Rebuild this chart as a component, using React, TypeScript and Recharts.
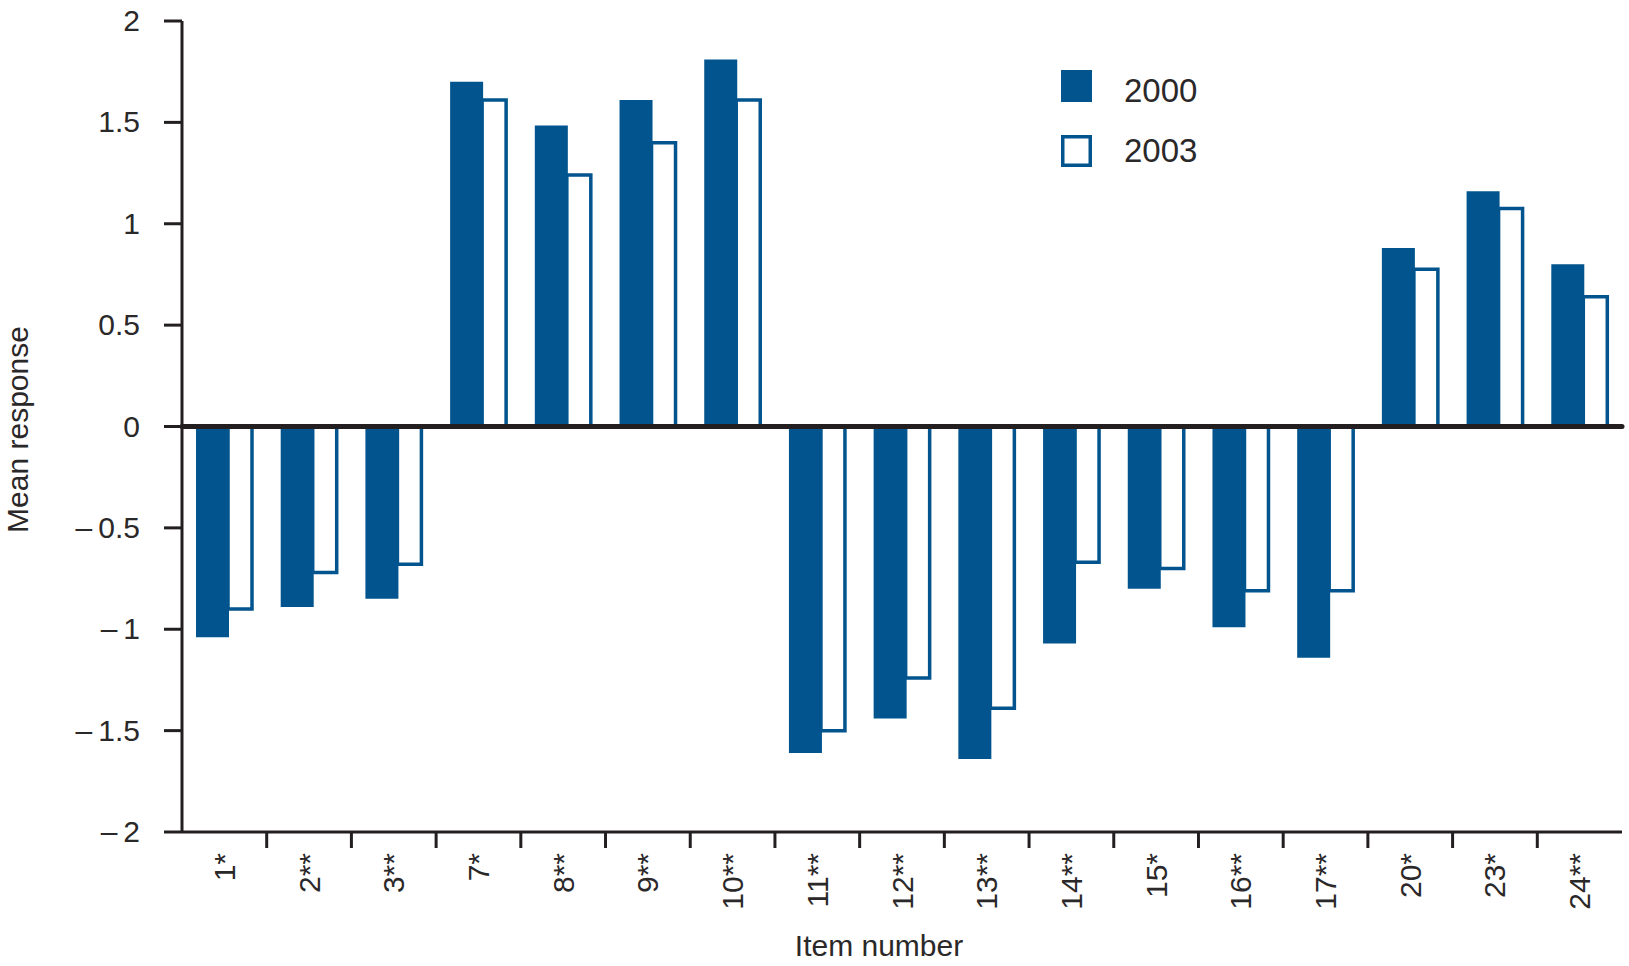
import React from 'react';
import { BarChart, Bar, XAxis, YAxis, ReferenceLine, Legend } from 'recharts';

const items = ['1*', '2**', '3**', '7*', '8**', '9**', '10**', '11**', '12**', '13**', '14**', '15*', '16**', '17**', '20*', '23*', '24**'];
const mean2000 = [-1.04, -0.89, -0.85, 1.70, 1.485, 1.61, 1.81, -1.61, -1.44, -1.64, -1.07, -0.80, -0.99, -1.14, 0.88, 1.16, 0.80];
const mean2003 = [-0.90, -0.72, -0.68, 1.61, 1.24, 1.40, 1.61, -1.50, -1.24, -1.39, -0.67, -0.70, -0.81, -0.81, 0.775, 1.075, 0.64];
const yTicks = [-2, -1.5, -1, -0.5, 0, 0.5, 1, 1.5, 2];
const seriesNames = ['2000', '2003'];
const xTitle = 'Item number';
const yTitle = 'Mean response';

const W = 1629;
const H = 966;
const PLOT_LEFT = 182;
const PLOT_RIGHT = 1622;
const PLOT_TOP = 21;
const AXIS_Y = 832;
const INK = '#231f20';
const TEXT = '#2b2829';
const BLUE = '#01548d';
const FONT = '"Liberation Sans", Arial, Helvetica, sans-serif';

const data = items.map((item, i) => ({ item, y2000: mean2000[i], y2003: mean2003[i] }));
const band = (PLOT_RIGHT - PLOT_LEFT) / items.length;

const fmtY = (v: number) => (v < 0 ? `\u2013\u2009${Math.abs(v)}` : `${v}`);

const YTick = (props: any) => {
  const { x, y, payload } = props;
  return (
    <text x={x} y={y} dy={10} textAnchor="end" fontFamily={FONT} fontSize={30} fill={TEXT}>
      {fmtY(payload.value)}
    </text>
  );
};

const XTick = (props: any) => {
  const { x, payload, index } = props;
  const ly = AXIS_Y + 21;
  return (
    <g>
      {index < items.length - 1 && (
        <line x1={x + band / 2} x2={x + band / 2} y1={AXIS_Y} y2={AXIS_Y + 16} stroke={INK} strokeWidth={3} />
      )}
      <text
        x={x}
        y={ly}
        dy="0.35em"
        transform={`rotate(-90 ${x} ${ly})`}
        textAnchor="end"
        fontFamily={FONT}
        fontSize={30}
        fill={TEXT}
      >
        {payload.value}
      </text>
    </g>
  );
};

const renderLegend = (props: any) => {
  const payload = props.payload || [];
  return (
    <svg width={200} height={110} style={{ display: 'block' }}>
      {payload.map((entry: any, i: number) => {
        const top = i * 65;
        return (
          <g key={i}>
            {i === 0 ? (
              <rect x={0} y={top} width={31} height={32} fill={BLUE} />
            ) : (
              <rect x={1.75} y={top + 1.75} width={27.5} height={28.5} fill="#fff" stroke={BLUE} strokeWidth={3.5} />
            )}
            <text x={63} y={32 + i * 60} fontFamily={FONT} fontSize={33} fill={TEXT}>
              {entry.value}
            </text>
          </g>
        );
      })}
    </svg>
  );
};

const YTitle = (props: any) => {
  const vb = props.viewBox || { y: PLOT_TOP, height: AXIS_Y - PLOT_TOP };
  const cy = vb.y + vb.height / 2 + 3;
  const cx = 17;
  return (
    <text
      x={cx}
      y={cy}
      dy="0.35em"
      transform={`rotate(-90 ${cx} ${cy})`}
      textAnchor="middle"
      fontFamily={FONT}
      fontSize={30}
      fill={TEXT}
    >
      {yTitle}
    </text>
  );
};

const XTitle = (props: any) => {
  const vb = props.viewBox || { x: PLOT_LEFT, width: PLOT_RIGHT - PLOT_LEFT };
  const cx = vb.x + vb.width / 2 - 23;
  return (
    <text x={cx} y={956} textAnchor="middle" fontFamily={FONT} fontSize={30} fill={TEXT}>
      {xTitle}
    </text>
  );
};

export default function App() {
  return (
    <div style={{ position: 'absolute', left: 0, top: 0, width: W, height: H, background: '#fff' }}>
      <BarChart
        width={W}
        height={H}
        data={data}
        margin={{ top: PLOT_TOP, right: W - PLOT_RIGHT, bottom: 0, left: 0 }}
        barGap={-1}
        barCategoryGap={0}
      >
        <XAxis
          dataKey="item"
          interval={0}
          height={H - AXIS_Y}
          tickLine={false}
          axisLine={{ stroke: INK, strokeWidth: 3 }}
          tick={<XTick />}
          label={<XTitle />}
        />
        <YAxis
          type="number"
          domain={[-2, 2]}
          ticks={yTicks}
          width={PLOT_LEFT}
          tickSize={18}
          tickMargin={24}
          axisLine={{ stroke: INK, strokeWidth: 3 }}
          tickLine={{ stroke: INK, strokeWidth: 3 }}
          tick={<YTick />}
          label={<YTitle />}
          allowDataOverflow
        />
        <Legend
          content={renderLegend}
          layout="vertical"
          align="center"
          verticalAlign="middle"
          wrapperStyle={{ left: 1061, top: 70, width: 200, height: 110 }}
        />
        <Bar dataKey="y2000" name={seriesNames[0]} fill={BLUE} barSize={33} isAnimationActive={false} />
        <Bar
          dataKey="y2003"
          name={seriesNames[1]}
          fill="#ffffff"
          stroke={BLUE}
          strokeWidth={3.5}
          barSize={24}
          isAnimationActive={false}
        />
        <ReferenceLine y={0} stroke={INK} strokeWidth={5} strokeLinecap="round" />
      </BarChart>
    </div>
  );
}
